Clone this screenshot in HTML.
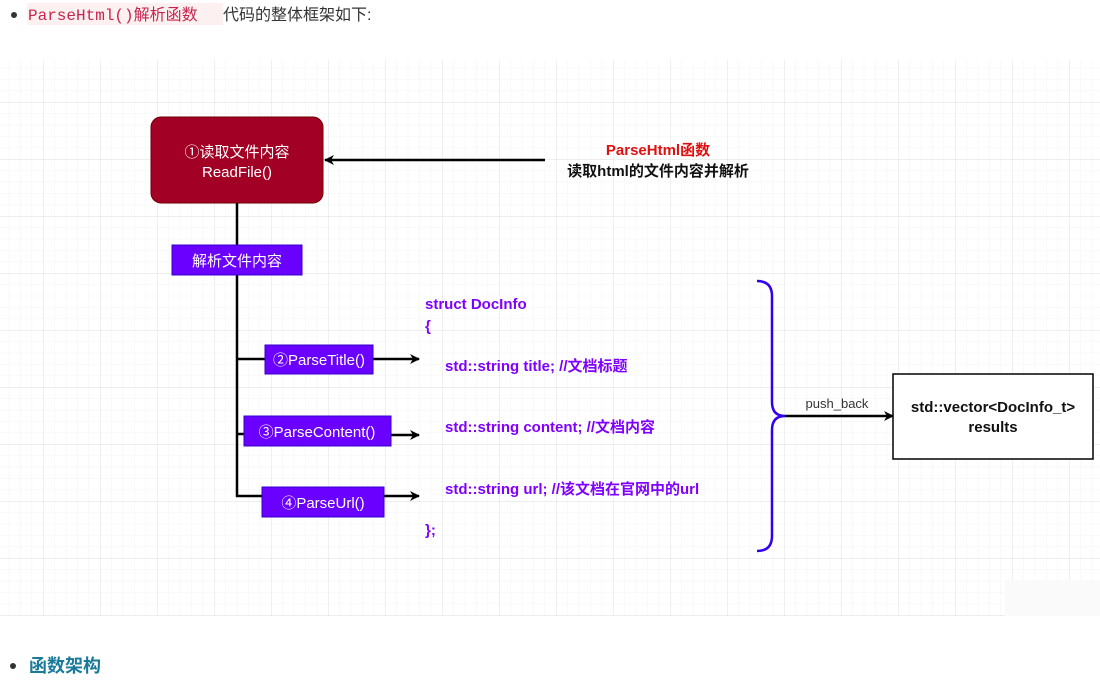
<!DOCTYPE html>
<html><head><meta charset="utf-8"><style>
body{margin:0;width:1100px;height:678px;background:#fff;overflow:hidden;font-family:"Liberation Sans","Noto Sans CJK SC",sans-serif}
</style></head><body>
<svg width="1100" height="678" viewBox="0 0 1100 678" xmlns="http://www.w3.org/2000/svg" font-family="Liberation Sans, Noto Sans CJK SC, sans-serif">
<defs>
<pattern id="minor" x="43" y="102" width="11.4" height="11.4" patternUnits="userSpaceOnUse"><path d="M0 0H11.4M0 0V11.4" stroke="#f3f3f3" stroke-width="1" fill="none"/></pattern>
<pattern id="major" x="43" y="102" width="57" height="57" patternUnits="userSpaceOnUse"><path d="M0 0H57M0 0V57" stroke="#e4e4e4" stroke-width="1.2" fill="none"/></pattern>
<marker id="ah" markerWidth="10" markerHeight="10" refX="9" refY="5" orient="auto" markerUnits="userSpaceOnUse"><path d="M0 0L10 5L0 10L3 5Z" fill="#000"/></marker>
</defs>
<circle cx="14" cy="15" r="3" fill="#333"/>
<rect x="27" y="3" width="196" height="22" fill="#fdf0f0"/>
<text x="28" y="20" font-family="Liberation Mono, Noto Sans CJK SC, monospace" font-size="16" fill="#c7254e">ParseHtml()<tspan font-family="Noto Sans CJK SC">解析函数</tspan></text>
<text x="223" y="20" font-size="16" fill="#333">代码的整体框架如下:</text>
<rect x="0" y="60" width="1100" height="556" fill="url(#minor)"/>
<rect x="0" y="60" width="1100" height="556" fill="url(#major)"/>
<rect x="1005" y="580" width="95" height="36" fill="#fafafa"/>
<!-- red box -->
<rect x="151" y="117" width="172" height="86" rx="10" fill="#a20025" stroke="#6f0000"/>
<text x="237" y="157" font-size="15" fill="#fff" text-anchor="middle">①读取文件内容</text>
<text x="237" y="177" font-size="15" fill="#fff" text-anchor="middle">ReadFile()</text>
<line x1="545" y1="160" x2="325" y2="160" stroke="#000" stroke-width="2.5" marker-end="url(#ah)"/>
<text x="658" y="155" font-size="15" font-weight="bold" fill="#e01010" text-anchor="middle">ParseHtml函数</text>
<text x="658" y="176" font-size="15" font-weight="bold" fill="#111" text-anchor="middle">读取html的文件内容并解析</text>
<!-- trunk -->
<line x1="237" y1="203" x2="237" y2="497" stroke="#000" stroke-width="2.5"/>
<rect x="172" y="245" width="130" height="30" fill="#6a00ff" stroke="#3700cc"/>
<text x="237" y="266" font-size="15" fill="#fff" text-anchor="middle">解析文件内容</text>
<line x1="237" y1="359" x2="265" y2="359" stroke="#000" stroke-width="2.5"/>
<line x1="237" y1="434" x2="244" y2="434" stroke="#000" stroke-width="2.5"/>
<line x1="236" y1="496" x2="262" y2="496" stroke="#000" stroke-width="2.5"/>
<rect x="265" y="345" width="108" height="29" fill="#6a00ff" stroke="#3700cc"/>
<text x="319" y="365" font-size="15" fill="#fff" text-anchor="middle">②ParseTitle()</text>
<rect x="244" y="416" width="147" height="30" fill="#6a00ff" stroke="#3700cc"/>
<text x="317" y="437" font-size="15" fill="#fff" text-anchor="middle">③ParseContent()</text>
<rect x="262" y="487" width="122" height="30" fill="#6a00ff" stroke="#3700cc"/>
<text x="323" y="508" font-size="15" fill="#fff" text-anchor="middle">④ParseUrl()</text>
<line x1="373" y1="359" x2="419" y2="359" stroke="#000" stroke-width="2.5" marker-end="url(#ah)"/>
<line x1="391" y1="435" x2="419" y2="435" stroke="#000" stroke-width="2.5" marker-end="url(#ah)"/>
<line x1="384" y1="496" x2="419" y2="496" stroke="#000" stroke-width="2.5" marker-end="url(#ah)"/>
<g font-size="15" font-weight="bold" fill="#7f00ff">
<text x="425" y="309">struct DocInfo</text>
<text x="425" y="331">{</text>
<text x="445" y="371">std::string title; //文档标题</text>
<text x="445" y="432">std::string content; //文档内容</text>
<text x="445" y="494">std::string url; //该文档在官网中的url</text>
<text x="425" y="535">};</text>
</g>
<!-- brace -->
<path d="M757 281 Q772 281 772 296 V402 Q772 416 785 416 Q772 416 772 430 V536 Q772 551 757 551" fill="none" stroke="#3300ee" stroke-width="2.5"/>
<line x1="785" y1="416" x2="893" y2="416" stroke="#000" stroke-width="2.5" marker-end="url(#ah)"/>
<text x="837" y="408" font-size="13" fill="#333" text-anchor="middle">push_back</text>
<rect x="893" y="374" width="200" height="85" fill="#fff" stroke="#000" stroke-width="1.5"/>
<text x="993" y="412" font-size="15" font-weight="bold" fill="#111" text-anchor="middle">std::vector&lt;DocInfo_t&gt;</text>
<text x="993" y="432" font-size="15" font-weight="bold" fill="#111" text-anchor="middle">results</text>
<circle cx="13" cy="666" r="3" fill="#333"/>
<text x="29" y="672" font-size="18" font-weight="bold" fill="#1a7a99">函数架构</text>
</svg>
</body></html>
